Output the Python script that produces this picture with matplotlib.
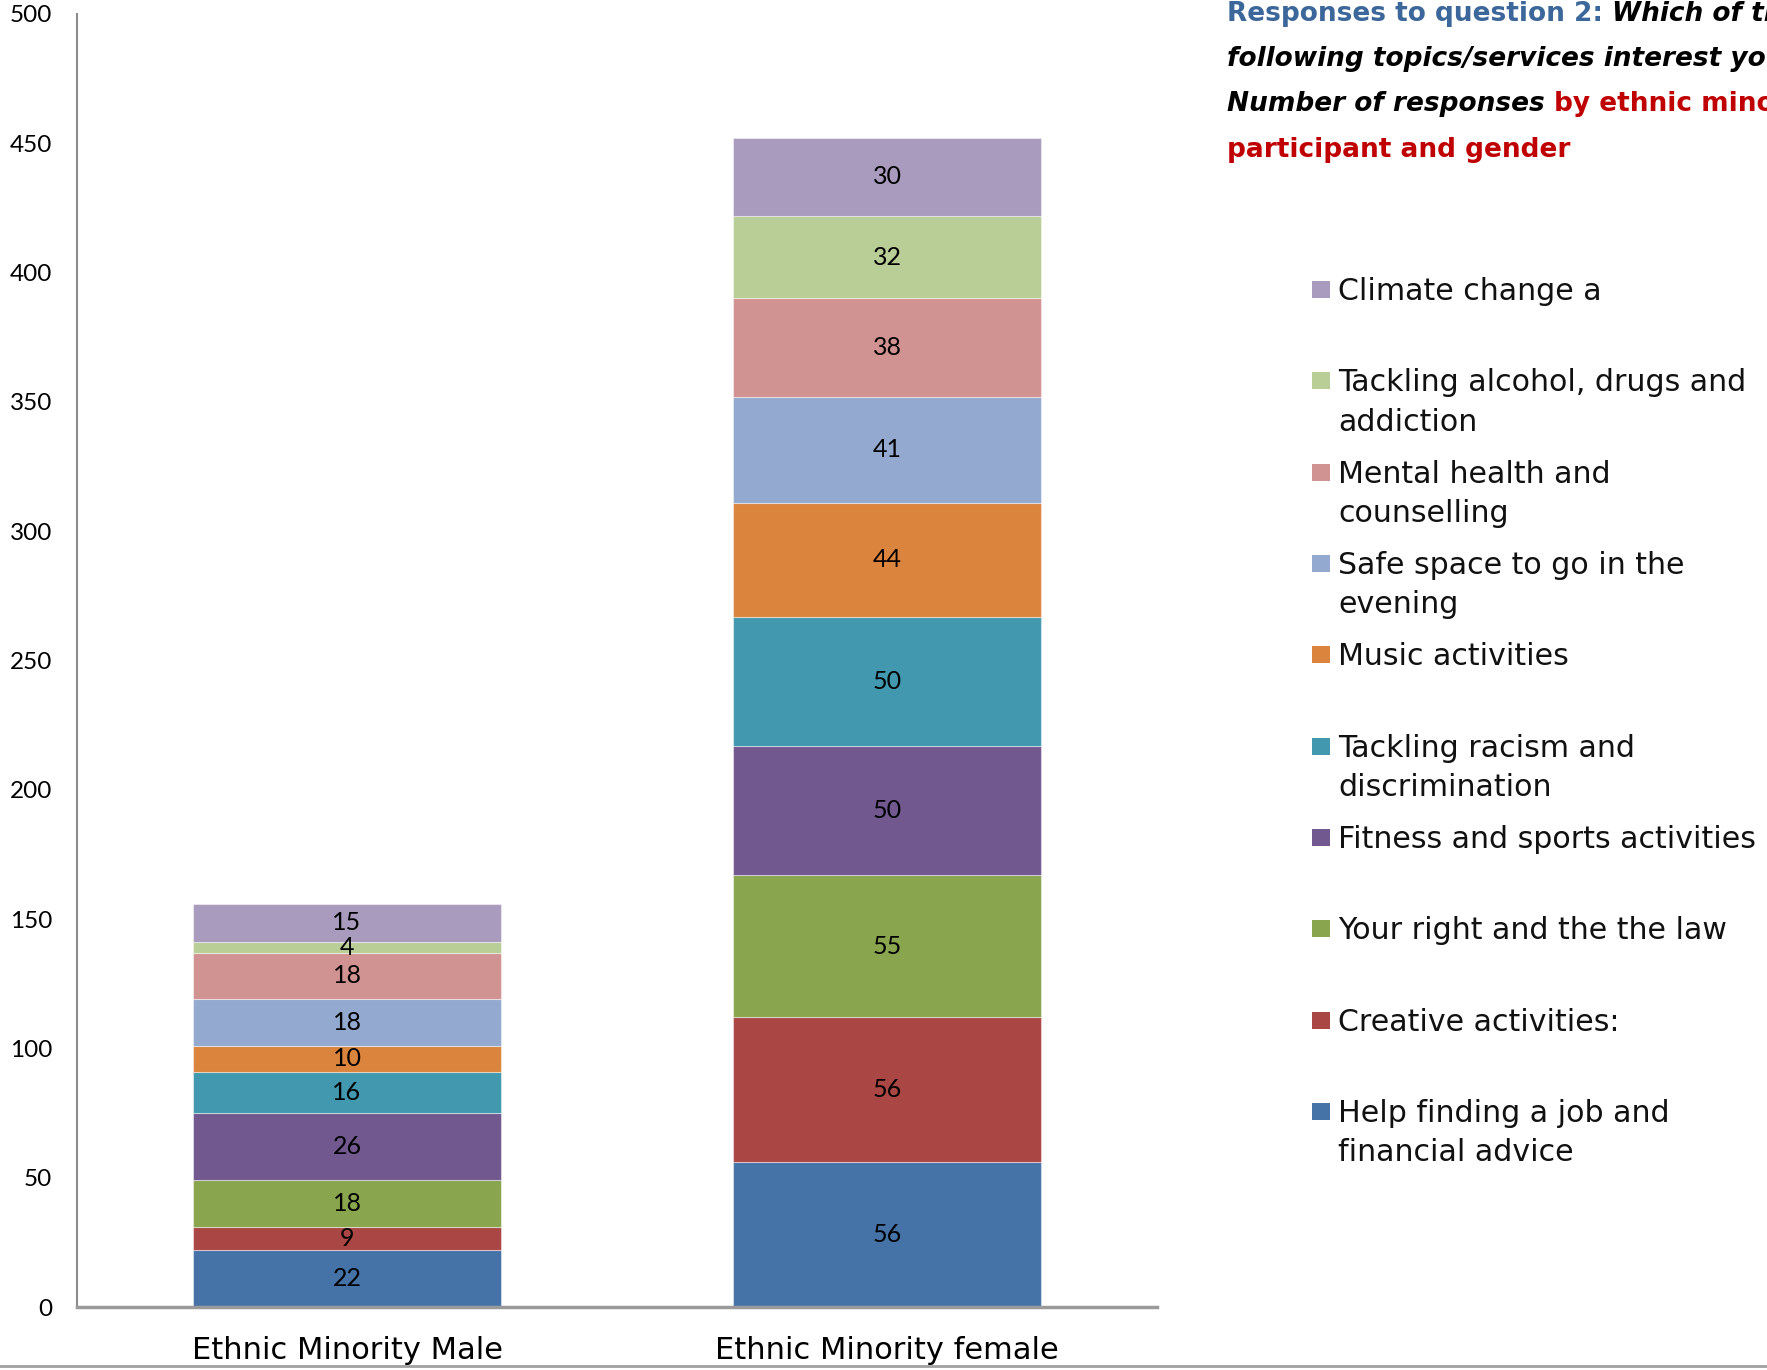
import matplotlib
matplotlib.use('Agg')
import matplotlib.pyplot as plt
from matplotlib.patches import Rectangle
from matplotlib.lines import Line2D

# ---------------- data ----------------
categories = ['Ethnic Minority Male', 'Ethnic Minority female']
series_names = [
    'Help finding a job and\nfinancial advice',
    'Creative activities:',
    'Your right and the the law',
    'Fitness and sports activities',
    'Tackling racism and\ndiscrimination',
    'Music activities',
    'Safe space to go in the\nevening',
    'Mental health and\ncounselling',
    'Tackling alcohol, drugs and\naddiction',
    'Climate change a',
]
male_values = [22, 9, 18, 26, 16, 10, 18, 18, 4, 15]
female_values = [56, 56, 55, 50, 50, 44, 41, 38, 32, 30]
series_colors = ['#4572A7', '#AA4643', '#89A54E', '#71588F', '#4198AF',
                 '#DB843D', '#93A9CF', '#D19392', '#B9CD96', '#A99BBD']
y_ticks = [0, 50, 100, 150, 200, 250, 300, 350, 400, 450, 500]

# ---------------- figure ----------------
W, H = 1767, 1370
fig = plt.figure(figsize=(W / 100, H / 100), dpi=100)
fig.patch.set_facecolor('white')

LABEL_FONT = ['DejaVu Sans']
NUM_FONT = ['Lato', 'DejaVu Sans']

ax = fig.add_axes([77 / W, 1 - 1307 / H, (1157 - 77) / W, (1307 - 14) / H])

x = [0, 1]
bottoms = [0, 0]
for name, c, mv, fv in zip(series_names, series_colors, male_values, female_values):
    vals = [mv, fv]
    cont = ax.bar(x, vals, width=0.57, bottom=bottoms, color=c,
                  edgecolor=(1, 1, 1, 0.45), linewidth=0.8, zorder=2)
    texts = ax.bar_label(cont, labels=[str(v) for v in vals], label_type='center',
                         fontsize=18, family=NUM_FONT, color='black')
    bottoms = [b + v for b, v in zip(bottoms, vals)]

ax.set_xlim(-0.5, 1.5)
ax.set_ylim(0, 500)
ax.set_yticks(y_ticks)
ax.set_yticklabels([str(t) for t in y_ticks], fontsize=17.5, family=NUM_FONT)
ax.set_xticks(x)
ax.set_xticklabels(categories, fontsize=22, family=LABEL_FONT)
ax.tick_params(axis='y', length=0, pad=18)
ax.tick_params(axis='x', length=0, pad=21)
for s in ['top', 'right']:
    ax.spines[s].set_visible(False)
ax.spines['left'].set_color('#8c8c8c')
ax.spines['left'].set_linewidth(1.5)
ax.spines['bottom'].set_color('#9a9a9a')
ax.spines['bottom'].set_linewidth(2.5)
ax.set_facecolor('none')

# ---------------- legend (manual, Excel-like) ----------------
first_base = 300
step = 91.33
line_gap = 39.5
order = list(range(len(series_names)))[::-1]
for k, i in enumerate(order):
    b = first_base + k * step
    fig.add_artist(Rectangle((1312 / W, 1 - (b - 2) / H), 18 / W, 17 / H,
                             transform=fig.transFigure, facecolor=series_colors[i],
                             edgecolor='none'))
    for j, line in enumerate(series_names[i].split('\n')):
        fig.text(1338 / W, 1 - (b + j * line_gap) / H, line, fontsize=21.6,
                 family=LABEL_FONT, va='baseline', ha='left', color='#111111')

# ---------------- title (mixed styles) ----------------
renderer = fig.canvas.get_renderer()
title_lines = [
    [("Responses to question 2: ", '#3C679A', 'normal'), ("Which of the", 'black', 'italic')],
    [("following topics/services interest you?", 'black', 'italic')],
    [("Number of responses ", 'black', 'italic'), ("by ethnic minority", '#C00000', 'normal')],
    [("participant and gender", '#C00000', 'normal')],
]
title_bases = [21, 66, 111, 157]
for parts, b in zip(title_lines, title_bases):
    xpos = 1227 / W
    for txt, col, sty in parts:
        t = fig.text(xpos, 1 - b / H, txt, fontsize=19, fontweight='bold', style=sty,
                     color=col, family=LABEL_FONT, va='baseline', ha='left')
        bb = t.get_window_extent(renderer=renderer)
        xpos = bb.x1 / W

# bottom separator line
fig.add_artist(Line2D([0, 1], [1 - 1366 / H, 1 - 1366 / H], transform=fig.transFigure,
                      color='#a0a0a0', linewidth=2))

fig.savefig('out.png', dpi=100)
